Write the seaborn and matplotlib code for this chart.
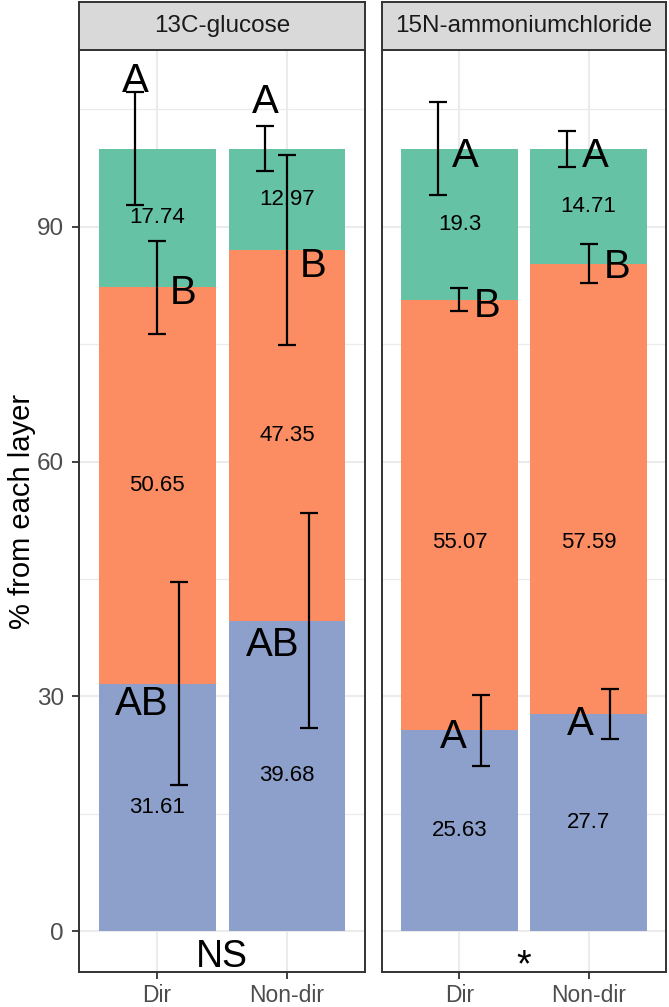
import numpy as np
import pandas as pd
import matplotlib
matplotlib.use("Agg")
import matplotlib.pyplot as plt
import seaborn as sns
from matplotlib.ticker import MultipleLocator

sns.set_theme(style="white")
plt.rcParams['font.family'] = ['Liberation Sans', 'DejaVu Sans']

# ---------------- data ----------------
categories = ["Dir", "Non-dir"]
panels = ["13C-glucose", "15N-ammoniumchloride"]
layer_colors = ["#8DA0CB", "#FC8D62", "#66C2A5"]   # bottom, middle, top

glucose_bottom = [31.61, 39.68]
glucose_middle = [50.65, 47.35]
glucose_top = [17.74, 12.97]
ammonium_bottom = [25.63, 27.70]
ammonium_middle = [55.07, 57.59]
ammonium_top = [19.30, 14.71]

glucose_err_bottom = [13.0, 13.7]
glucose_err_middle = [5.9, 12.1]
glucose_err_top = [7.2, 2.85]
ammonium_err_bottom = [4.55, 3.2]
ammonium_err_middle = [1.5, 2.5]
ammonium_err_top = [5.9, 2.3]

glucose_letters_bottom = ["AB", "AB"]
glucose_letters_middle = ["B", "B"]
glucose_letters_top = ["A", "A"]
ammonium_letters_bottom = ["A", "A"]
ammonium_letters_middle = ["B", "B"]
ammonium_letters_top = ["A", "A"]

significance = ["NS", "*"]

# letter label placement (x offset from category, y in data units)
glucose_letter_dx = [[-0.115, -0.11], [0.2, 0.2], [-0.17, -0.17]]
glucose_letter_y = [[29.0, 36.6], [81.5, 85.0], [108.7, 106.0]]
ammonium_letter_dx = [[-0.047, -0.066], [0.217, 0.22], [0.046, 0.05]]
ammonium_letter_y = [[24.8, 26.5], [79.9, 84.9], [99.1, 99.1]]
# value label y positions for middle layer in ammonium panel (as drawn)
ammonium_middle_label_y = [49.7, 49.7]

dodge = [1 / 6, 0.0, -1 / 6]   # bottom, middle, top error-bar offsets

panel_data = {
    "13C-glucose": dict(
        vals=[glucose_bottom, glucose_middle, glucose_top],
        errs=[glucose_err_bottom, glucose_err_middle, glucose_err_top],
        letters=[glucose_letters_bottom, glucose_letters_middle, glucose_letters_top],
        ldx=glucose_letter_dx, ly=glucose_letter_y, mid_label_y=None),
    "15N-ammoniumchloride": dict(
        vals=[ammonium_bottom, ammonium_middle, ammonium_top],
        errs=[ammonium_err_bottom, ammonium_err_middle, ammonium_err_top],
        letters=[ammonium_letters_bottom, ammonium_letters_middle, ammonium_letters_top],
        ldx=ammonium_letter_dx, ly=ammonium_letter_y, mid_label_y=ammonium_middle_label_y),
}

# ---------------- layout ----------------
W, H = 669, 1007
fig = plt.figure(figsize=(W / 100, H / 100), dpi=100)
fig.patch.set_facecolor("white")

panel_px = [(79, 286), (382, 284)]
top_px, bot_px = 50, 972
strip_top = 2

ylim = (-5.24, 112.6)
dark = "#333333"

for p, (name, (x0, w)) in enumerate(zip(panels, panel_px)):
    d = panel_data[name]
    ax = fig.add_axes([x0 / W, (H - bot_px) / H, w / W, (bot_px - top_px) / H])
    ax.set_facecolor("white")
    vals = np.array(d["vals"])
    cum = np.cumsum(vals, axis=0)
    # draw stacked bars: tallest first
    for k in [2, 1, 0]:
        df = pd.DataFrame({"treat": categories, "cum": cum[k]})
        sns.barplot(data=df, x="treat", y="cum", order=categories, color=layer_colors[k],
                    saturation=1, width=0.9, errorbar=None, linewidth=0, ax=ax, zorder=2)
    # value labels
    for k in range(3):
        for i in range(2):
            if k == 1 and d["mid_label_y"] is not None:
                yy = d["mid_label_y"][i]
            else:
                yy = cum[k][i] - vals[k][i] / 2
            ax.text(i, yy, f"{vals[k][i]:g}", ha="center", va="center", fontsize=16,
                    color="black", zorder=4)
    # error bars
    for k in range(3):
        xs = np.arange(2) + dodge[k]
        ax.errorbar(xs, cum[k], yerr=d["errs"][k], fmt="none", ecolor="black",
                    elinewidth=1.6, capsize=6.5, capthick=1.6, zorder=5)
    # letters
    for k in range(3):
        for i in range(2):
            ax.text(i + d["ldx"][k][i], d["ly"][k][i], d["letters"][k][i], ha="center",
                    va="center", fontsize=29, color="black", zorder=6)
    # significance
    sig_y = -3.3 if significance[p] != "*" else -4.5
    ax.text(0.5, sig_y, significance[p], ha="center", va="center", fontsize=27,
            color="black", zorder=6)

    ax.set_xlim(-0.6, 1.6)
    ax.set_ylim(*ylim)
    ax.yaxis.set_major_locator(MultipleLocator(30))
    ax.yaxis.set_minor_locator(MultipleLocator(15))
    ax.set_axisbelow(True)
    ax.grid(which="major", axis="both", color="#EBEBEB", linewidth=1.5, zorder=0)
    ax.grid(which="minor", axis="y", color="#EBEBEB", linewidth=0.9, zorder=0)
    ax.set_xlabel("")
    ax.set_ylabel("")
    for s in ax.spines.values():
        s.set_color(dark)
        s.set_linewidth(1.4)
        s.set_zorder(7)
    ax.tick_params(axis="x", which="major", length=5, width=1.3, color=dark,
                   labelsize=16.5, labelcolor="#4D4D4D", pad=4, bottom=True)
    ax.tick_params(axis="y", which="minor", length=0)
    if p == 0:
        ax.tick_params(axis="y", which="major", length=5, width=1.3, color=dark,
                       labelsize=17.5, labelcolor="#4D4D4D", pad=6, left=True)
    else:
        ax.tick_params(axis="y", which="major", left=False, labelleft=False)

    # strip
    sax = fig.add_axes([x0 / W, (H - top_px) / H, w / W, (top_px - strip_top) / H])
    sax.set_facecolor("#D9D9D9")
    sax.set_xticks([])
    sax.set_yticks([])
    for s in sax.spines.values():
        s.set_color(dark)
        s.set_linewidth(1.4)
    sax.text(0.5, 0.5, name, ha="center", va="center", fontsize=17.5, color="#1A1A1A",
             transform=sax.transAxes)

fig.text(22 / W, (H - 511) / H, "% from each layer", rotation=90, ha="center",
         va="center", fontsize=21, color="black")

fig.savefig("out.png", dpi=100, facecolor="white")
